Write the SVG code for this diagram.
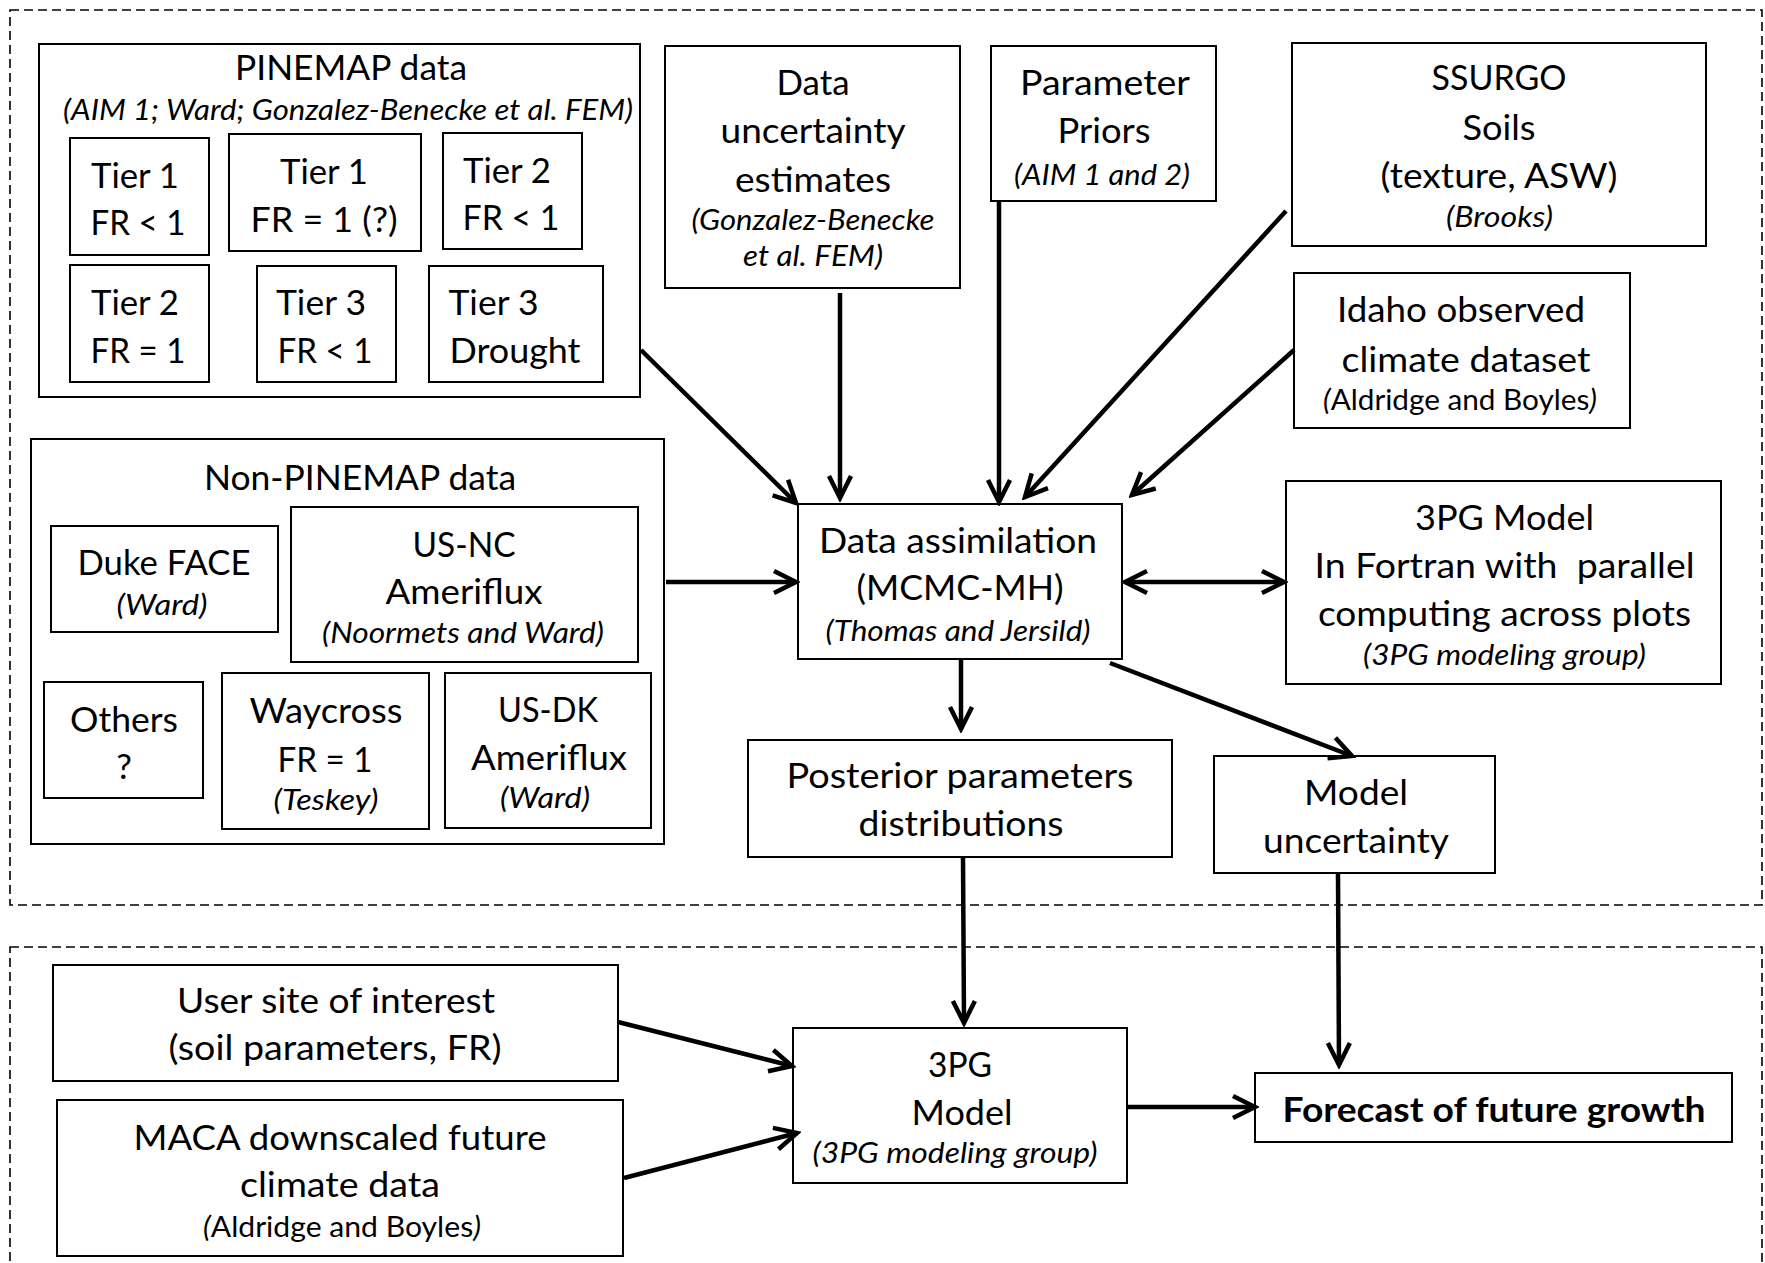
<svg xmlns="http://www.w3.org/2000/svg" width="1765" height="1263" viewBox="0 0 1765 1263">
<style>
.bg{fill:#fff}
.box{fill:#fff;stroke:#000;stroke-width:2}
.dash{fill:none;stroke:#000;stroke-width:1.6;stroke-dasharray:9 5}
text{font-family:Lato,"Open Sans","Liberation Sans",sans-serif;font-size:35px;text-anchor:middle;fill:#000}
.s{font-size:28px;font-style:italic}
.r{font-size:28px}
.i{font-style:italic}
.b{font-weight:bold;font-size:34px}
.c{stroke:#000;stroke-width:4.5;fill:none;marker-end:url(#ah)}
.c2{stroke:#000;stroke-width:4.5;fill:none;marker-end:url(#ah);marker-start:url(#ah)}
</style>
<defs>
<marker id="ah" markerUnits="userSpaceOnUse" viewBox="-26 -14 30 28" markerWidth="30" markerHeight="28" refX="0" refY="0" orient="auto-start-reverse">
<path d="M-22,-11 L0,0 L-22,11" fill="none" stroke="#000" stroke-width="4.5" stroke-linejoin="miter"/>
</marker>
</defs>
<rect class="bg" x="0" y="0" width="1765" height="1263"/>
<g id="regions">
<rect class="dash" x="10" y="10" width="1752" height="895"/>
<rect class="dash" x="10" y="947" width="1752" height="330"/>
</g>
<g id="pinemap">
<rect class="box" x="39" y="44" width="601" height="353"/>
<text x="351" y="80" textLength="232" lengthAdjust="spacingAndGlyphs">PINEMAP data</text>
<text class="s" x="348" y="120" textLength="570" lengthAdjust="spacingAndGlyphs">(AIM 1; Ward; Gonzalez-Benecke et al. FEM)</text>
</g>
<g id="tier1a">
<rect class="box" x="70" y="138" width="139" height="117"/>
<text x="135" y="188" textLength="88" lengthAdjust="spacingAndGlyphs">Tier 1</text>
<text x="138" y="235" textLength="95" lengthAdjust="spacingAndGlyphs">FR &lt; 1</text>
</g>
<g id="tier1b">
<rect class="box" x="229" y="134" width="192" height="117"/>
<text x="324" y="184" textLength="88" lengthAdjust="spacingAndGlyphs">Tier 1</text>
<text x="324" y="232" textLength="147" lengthAdjust="spacingAndGlyphs">FR = 1 (?)</text>
</g>
<g id="tier2a">
<rect class="box" x="443" y="133" width="139" height="116"/>
<text x="507" y="183" textLength="88" lengthAdjust="spacingAndGlyphs">Tier 2</text>
<text x="511" y="230" textLength="97" lengthAdjust="spacingAndGlyphs">FR &lt; 1</text>
</g>
<g id="tier2b">
<rect class="box" x="70" y="265" width="139" height="117"/>
<text x="135" y="315" textLength="88" lengthAdjust="spacingAndGlyphs">Tier 2</text>
<text x="138" y="363" textLength="95" lengthAdjust="spacingAndGlyphs">FR = 1</text>
</g>
<g id="tier3a">
<rect class="box" x="257" y="266" width="139" height="116"/>
<text x="321" y="315" textLength="90" lengthAdjust="spacingAndGlyphs">Tier 3</text>
<text x="325" y="363" textLength="95" lengthAdjust="spacingAndGlyphs">FR &lt; 1</text>
</g>
<g id="tier3b">
<rect class="box" x="429" y="266" width="174" height="116"/>
<text x="493.5" y="315" textLength="90" lengthAdjust="spacingAndGlyphs">Tier 3</text>
<text x="515" y="363" textLength="131" lengthAdjust="spacingAndGlyphs">Drought</text>
</g>
<g id="datauncertainty">
<rect class="box" x="665" y="46" width="295" height="242"/>
<text x="813" y="95" textLength="73" lengthAdjust="spacingAndGlyphs">Data</text>
<text x="813" y="143" textLength="185" lengthAdjust="spacingAndGlyphs">uncertainty</text>
<text x="813" y="192" textLength="156" lengthAdjust="spacingAndGlyphs">estimates</text>
<text class="s" x="813" y="230" textLength="243" lengthAdjust="spacingAndGlyphs">(Gonzalez-Benecke</text>
<text class="s" x="813" y="266" textLength="140" lengthAdjust="spacingAndGlyphs">et al. FEM)</text>
</g>
<g id="priors">
<rect class="box" x="991" y="46" width="225" height="155"/>
<text x="1105" y="95" textLength="170" lengthAdjust="spacingAndGlyphs">Parameter</text>
<text x="1104" y="143" textLength="93" lengthAdjust="spacingAndGlyphs">Priors</text>
<text class="s" x="1102" y="185" textLength="176" lengthAdjust="spacingAndGlyphs">(AIM 1 and 2)</text>
</g>
<g id="ssurgo">
<rect class="box" x="1292" y="43" width="414" height="203"/>
<text x="1499" y="90" textLength="135" lengthAdjust="spacingAndGlyphs">SSURGO</text>
<text x="1499" y="140" textLength="73" lengthAdjust="spacingAndGlyphs">Soils</text>
<text x="1499" y="188" textLength="237" lengthAdjust="spacingAndGlyphs">(texture, ASW)</text>
<text class="s" x="1499.5" y="227" textLength="107" lengthAdjust="spacingAndGlyphs">(Brooks)</text>
</g>
<g id="idaho">
<rect class="box" x="1294" y="273" width="336" height="155"/>
<text x="1461" y="322" textLength="248" lengthAdjust="spacingAndGlyphs">Idaho observed</text>
<text x="1466" y="372" textLength="249" lengthAdjust="spacingAndGlyphs">climate dataset</text>
<text class="r" x="1460" y="410" textLength="274" lengthAdjust="spacingAndGlyphs"><tspan class="i">(</tspan>Aldridge and Boyles<tspan class="i">)</tspan></text>
</g>
<g id="nonpinemap">
<rect class="box" x="31" y="439" width="633" height="405"/>
<text x="360" y="490" textLength="312" lengthAdjust="spacingAndGlyphs">Non-PINEMAP data</text>
</g>
<g id="dukeface">
<rect class="box" x="51" y="526" width="227" height="106"/>
<text x="164" y="575" textLength="173" lengthAdjust="spacingAndGlyphs">Duke FACE</text>
<text class="s" x="162" y="615" textLength="91" lengthAdjust="spacingAndGlyphs">(Ward)</text>
</g>
<g id="usnc">
<rect class="box" x="291" y="507" width="347" height="155"/>
<text x="464" y="557" textLength="103" lengthAdjust="spacingAndGlyphs">US-NC</text>
<text x="464" y="604" textLength="157" lengthAdjust="spacingAndGlyphs">Ameriflux</text>
<text class="s" x="463" y="643" textLength="282" lengthAdjust="spacingAndGlyphs">(Noormets and Ward)</text>
</g>
<g id="others">
<rect class="box" x="44" y="682" width="159" height="116"/>
<text x="124" y="732" textLength="108" lengthAdjust="spacingAndGlyphs">Others</text>
<text x="124" y="779">?</text>
</g>
<g id="waycross">
<rect class="box" x="222" y="673" width="207" height="156"/>
<text x="326" y="723" textLength="153" lengthAdjust="spacingAndGlyphs">Waycross</text>
<text x="325" y="772" textLength="95" lengthAdjust="spacingAndGlyphs">FR = 1</text>
<text class="s" x="326" y="810" textLength="105" lengthAdjust="spacingAndGlyphs">(Teskey)</text>
</g>
<g id="usdk">
<rect class="box" x="445" y="673" width="206" height="155"/>
<text x="548" y="722" textLength="100" lengthAdjust="spacingAndGlyphs">US-DK</text>
<text x="549" y="770" textLength="156" lengthAdjust="spacingAndGlyphs">Ameriflux</text>
<text class="s" x="545" y="808" textLength="90" lengthAdjust="spacingAndGlyphs">(Ward)</text>
</g>
<g id="dataassimilation">
<rect class="box" x="798" y="504" width="324" height="155"/>
<text x="958" y="553" textLength="278" lengthAdjust="spacingAndGlyphs">Data assimilation</text>
<text x="960" y="600" textLength="207" lengthAdjust="spacingAndGlyphs">(MCMC-MH)</text>
<text class="s" x="958" y="641" textLength="265" lengthAdjust="spacingAndGlyphs">(Thomas and Jersild)</text>
</g>
<g id="model3pgfortran">
<rect class="box" x="1286" y="481" width="435" height="203"/>
<text x="1504.5" y="530" textLength="179" lengthAdjust="spacingAndGlyphs">3PG Model</text>
<text x="1504.5" y="578" textLength="380" lengthAdjust="spacingAndGlyphs" xml:space="preserve">In Fortran with  parallel</text>
<text x="1504.5" y="626" textLength="373" lengthAdjust="spacingAndGlyphs">computing across plots</text>
<text class="s" x="1504.5" y="665" textLength="283" lengthAdjust="spacingAndGlyphs">(3PG modeling group)</text>
</g>
<g id="posterior">
<rect class="box" x="748" y="740" width="424" height="117"/>
<text x="960" y="788" textLength="347" lengthAdjust="spacingAndGlyphs">Posterior parameters</text>
<text x="961" y="836" textLength="205" lengthAdjust="spacingAndGlyphs">distributions</text>
</g>
<g id="modeluncertainty">
<rect class="box" x="1214" y="756" width="281" height="117"/>
<text x="1356" y="805" textLength="104" lengthAdjust="spacingAndGlyphs">Model</text>
<text x="1356" y="853" textLength="186" lengthAdjust="spacingAndGlyphs">uncertainty</text>
</g>
<g id="usersite">
<rect class="box" x="53" y="965" width="565" height="116"/>
<text x="336" y="1013" textLength="318" lengthAdjust="spacingAndGlyphs">User site of interest</text>
<text x="335" y="1060" textLength="333" lengthAdjust="spacingAndGlyphs">(soil parameters, FR)</text>
</g>
<g id="maca">
<rect class="box" x="57" y="1100" width="566" height="156"/>
<text x="340" y="1150" textLength="413" lengthAdjust="spacingAndGlyphs">MACA downscaled future</text>
<text x="340" y="1197" textLength="200" lengthAdjust="spacingAndGlyphs">climate data</text>
<text class="r" x="342" y="1237" textLength="278" lengthAdjust="spacingAndGlyphs"><tspan class="i">(</tspan>Aldridge and Boyles<tspan class="i">)</tspan></text>
</g>
<g id="model3pg">
<rect class="box" x="793" y="1028" width="334" height="155"/>
<text x="960" y="1077" textLength="64" lengthAdjust="spacingAndGlyphs">3PG</text>
<text x="962" y="1125" textLength="101" lengthAdjust="spacingAndGlyphs">Model</text>
<text class="s" x="955" y="1163" textLength="285" lengthAdjust="spacingAndGlyphs">(3PG modeling group)</text>
</g>
<g id="forecast">
<rect class="box" x="1255" y="1073" width="477" height="69"/>
<text class="b" x="1494" y="1122" textLength="423" lengthAdjust="spacingAndGlyphs">Forecast of future growth</text>
</g>
<g id="connectors">
<line class="c" x1="641" y1="350" x2="796" y2="503"/>
<line class="c" x1="840" y1="293" x2="840" y2="498"/>
<line class="c" x1="999" y1="201" x2="999" y2="502"/>
<line class="c" x1="1286" y1="211" x2="1025" y2="497"/>
<line class="c" x1="1294" y1="350" x2="1132" y2="495"/>
<line class="c" x1="666" y1="582" x2="796" y2="582"/>
<line class="c2" x1="1125" y1="582" x2="1284" y2="582"/>
<line class="c" x1="961" y1="659" x2="961" y2="729"/>
<line class="c" x1="1110" y1="663" x2="1352" y2="756"/>
<line class="c" x1="963" y1="857" x2="964" y2="1023"/>
<line class="c" x1="1338" y1="873" x2="1339" y2="1065"/>
<line class="c" x1="618" y1="1022" x2="792" y2="1066"/>
<line class="c" x1="624" y1="1178" x2="797" y2="1133"/>
<line class="c" x1="1127" y1="1107" x2="1255" y2="1107"/>
</g>
</svg>
